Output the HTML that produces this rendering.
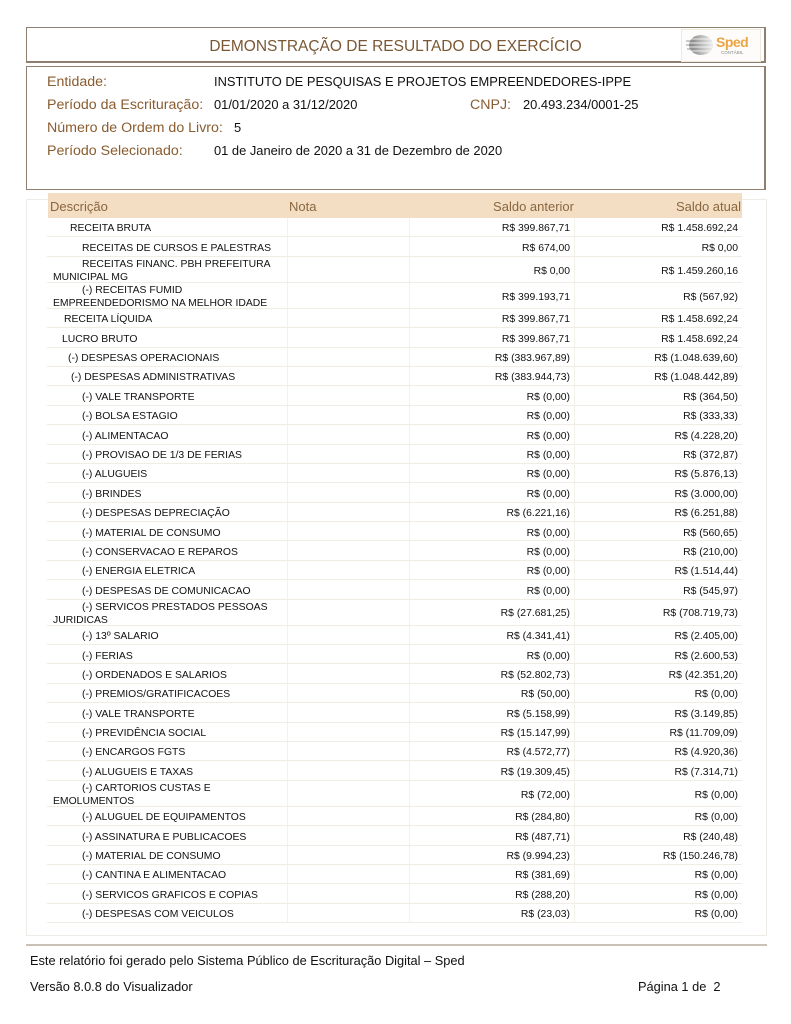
<!DOCTYPE html>
<html><head><meta charset="utf-8">
<style>
*{margin:0;padding:0;box-sizing:border-box}
html,body{width:791px;height:1024px;background:#fff;overflow:hidden}
body{position:relative;font-family:"Liberation Sans",Arial,sans-serif;color:#111}
.abs{position:absolute;white-space:nowrap}
.tbox{position:absolute;left:26px;top:27px;width:740px;height:36px;border:1px solid #8e7f70;border-right-width:2px;border-bottom-width:2px}
.title{position:absolute;left:0;width:791px;top:38px;text-align:center;font-size:15.5px;color:#7a5734;line-height:18px}
.ibox{position:absolute;left:26px;top:66px;width:740px;height:124px;border:1px solid #8e7f70;border-right-width:2px}
.lbl{color:#8a5c30;font-size:14.2px;line-height:16px}
.val{font-size:12.9px;line-height:16px;color:#111}
.obox{position:absolute;left:26px;top:199px;width:741px;height:737px;border:1px solid #efebe6}
.hdr{position:absolute;left:48px;top:193px;width:694px;height:25px;background:#f3dec3;font-size:13px;color:#8a6640}
.hdr span{position:absolute;top:6px;line-height:15px}
.rows{position:absolute;left:47px;top:218px;width:695px}
.r{display:flex;border-bottom:1px solid #f1ece5;font-size:10.4px;line-height:12.4px}
.r>div{display:flex;align-items:center;height:100%;border-right:1px solid #f4f0ea;padding-top:5px}
.d{width:241px;padding-left:6px;white-space:nowrap}
.n{width:122px}
.a{width:165px;justify-content:flex-end;padding-right:4px}
.b{width:167px;justify-content:flex-end;padding-right:4px;border-right:none!important}
.s{height:19.4px}
.w{height:26px}
.foot{position:absolute;left:26px;top:944px;width:741px;height:2px;background:#c9c0b6}
.ft{font-size:12.8px;line-height:15px;color:#111}
</style></head><body>

<div class="tbox"></div>
<div class="title">DEMONSTRAÇÃO DE RESULTADO DO EXERCÍCIO</div>

<!-- logo -->
<div class="abs" style="left:681px;top:29px;width:80px;height:33px;border:1px solid #efe8dc;background:#fdfcfa"></div>
<svg class="abs" style="left:686px;top:34px" width="28" height="22" viewBox="0 0 28 22">
<defs><linearGradient id="g" x1="0" y1="0" x2="1" y2="0"><stop offset="0" stop-color="#7c7c7c"/><stop offset="0.6" stop-color="#c4c4c4"/><stop offset="1" stop-color="#ececec"/></linearGradient></defs>
<ellipse cx="15" cy="11" rx="12" ry="10" fill="url(#g)"/>
<g stroke="#fff" stroke-width="1" opacity="0.8"><line x1="3" y1="5" x2="26" y2="5"/><line x1="2" y1="9" x2="27" y2="9"/><line x1="3" y1="13" x2="26" y2="13"/><line x1="5" y1="17" x2="24" y2="17"/></g>
<g stroke="#999" stroke-width="1"><line x1="0" y1="7" x2="6" y2="7"/><line x1="0" y1="11" x2="5" y2="11"/><line x1="1" y1="15" x2="7" y2="15"/></g>
</svg>
<div class="abs" style="left:716px;top:35px;font-size:14px;font-weight:bold;color:#eaa443;line-height:15px;letter-spacing:-0.5px">Sped</div>
<div class="abs" style="left:721px;top:50px;font-size:4.5px;color:#888;line-height:5px">CONTÁBIL</div>

<div class="ibox"></div>
<div class="abs lbl" style="left:47px;top:74px">Entidade:</div>
<div class="abs val" style="left:214px;top:74px">INSTITUTO DE PESQUISAS E PROJETOS EMPREENDEDORES-IPPE</div>
<div class="abs lbl" style="left:47px;top:97px">Período da Escrituração:</div>
<div class="abs val" style="left:214px;top:97px">01/01/2020 a 31/12/2020</div>
<div class="abs lbl" style="left:470px;top:97px">CNPJ:</div>
<div class="abs val" style="left:523px;top:97px">20.493.234/0001-25</div>
<div class="abs lbl" style="left:47px;top:120px">Número de Ordem do Livro:</div>
<div class="abs val" style="left:234px;top:120px">5</div>
<div class="abs lbl" style="left:47px;top:143px">Período Selecionado:</div>
<div class="abs val" style="left:214px;top:143px">01 de Janeiro de 2020 a 31 de Dezembro de 2020</div>

<div class="obox"></div>
<div class="hdr">
<span style="left:2px">Descrição</span>
<span style="left:241px">Nota</span>
<span style="right:168px">Saldo anterior</span>
<span style="right:1px">Saldo atual</span>
</div>

<div class="rows">
<div class="r s"><div class="d" style="text-indent:17px">RECEITA BRUTA</div><div class="n"></div><div class="a">R$ 399.867,71</div><div class="b">R$ 1.458.692,24</div></div>
<div class="r s"><div class="d" style="text-indent:29px">RECEITAS DE CURSOS E PALESTRAS</div><div class="n"></div><div class="a">R$ 674,00</div><div class="b">R$ 0,00</div></div>
<div class="r w"><div class="d"><div><span style="padding-left:29px">RECEITAS FINANC. PBH PREFEITURA</span><br>MUNICIPAL MG</div></div><div class="n"></div><div class="a">R$ 0,00</div><div class="b">R$ 1.459.260,16</div></div>
<div class="r w"><div class="d"><div><span style="padding-left:29px">(-) RECEITAS FUMID</span><br>EMPREENDEDORISMO NA MELHOR IDADE</div></div><div class="n"></div><div class="a">R$ 399.193,71</div><div class="b">R$ (567,92)</div></div>
<div class="r s"><div class="d" style="text-indent:11px">RECEITA LÍQUIDA</div><div class="n"></div><div class="a">R$ 399.867,71</div><div class="b">R$ 1.458.692,24</div></div>
<div class="r s"><div class="d" style="text-indent:9px">LUCRO BRUTO</div><div class="n"></div><div class="a">R$ 399.867,71</div><div class="b">R$ 1.458.692,24</div></div>
<div class="r s"><div class="d" style="text-indent:15px">(-) DESPESAS OPERACIONAIS</div><div class="n"></div><div class="a">R$ (383.967,89)</div><div class="b">R$ (1.048.639,60)</div></div>
<div class="r s"><div class="d" style="text-indent:18px">(-) DESPESAS ADMINISTRATIVAS</div><div class="n"></div><div class="a">R$ (383.944,73)</div><div class="b">R$ (1.048.442,89)</div></div>
<div class="r s"><div class="d" style="text-indent:29px">(-) VALE TRANSPORTE</div><div class="n"></div><div class="a">R$ (0,00)</div><div class="b">R$ (364,50)</div></div>
<div class="r s"><div class="d" style="text-indent:29px">(-) BOLSA ESTAGIO</div><div class="n"></div><div class="a">R$ (0,00)</div><div class="b">R$ (333,33)</div></div>
<div class="r s"><div class="d" style="text-indent:29px">(-) ALIMENTACAO</div><div class="n"></div><div class="a">R$ (0,00)</div><div class="b">R$ (4.228,20)</div></div>
<div class="r s"><div class="d" style="text-indent:29px">(-) PROVISAO DE 1/3 DE FERIAS</div><div class="n"></div><div class="a">R$ (0,00)</div><div class="b">R$ (372,87)</div></div>
<div class="r s"><div class="d" style="text-indent:29px">(-) ALUGUEIS</div><div class="n"></div><div class="a">R$ (0,00)</div><div class="b">R$ (5.876,13)</div></div>
<div class="r s"><div class="d" style="text-indent:29px">(-) BRINDES</div><div class="n"></div><div class="a">R$ (0,00)</div><div class="b">R$ (3.000,00)</div></div>
<div class="r s"><div class="d" style="text-indent:29px">(-) DESPESAS DEPRECIAÇÃO</div><div class="n"></div><div class="a">R$ (6.221,16)</div><div class="b">R$ (6.251,88)</div></div>
<div class="r s"><div class="d" style="text-indent:29px">(-) MATERIAL DE CONSUMO</div><div class="n"></div><div class="a">R$ (0,00)</div><div class="b">R$ (560,65)</div></div>
<div class="r s"><div class="d" style="text-indent:29px">(-) CONSERVACAO E REPAROS</div><div class="n"></div><div class="a">R$ (0,00)</div><div class="b">R$ (210,00)</div></div>
<div class="r s"><div class="d" style="text-indent:29px">(-) ENERGIA ELETRICA</div><div class="n"></div><div class="a">R$ (0,00)</div><div class="b">R$ (1.514,44)</div></div>
<div class="r s"><div class="d" style="text-indent:29px">(-) DESPESAS DE COMUNICACAO</div><div class="n"></div><div class="a">R$ (0,00)</div><div class="b">R$ (545,97)</div></div>
<div class="r w"><div class="d"><div><span style="padding-left:29px">(-) SERVICOS PRESTADOS PESSOAS</span><br>JURIDICAS</div></div><div class="n"></div><div class="a">R$ (27.681,25)</div><div class="b">R$ (708.719,73)</div></div>
<div class="r s"><div class="d" style="text-indent:29px">(-) 13º SALARIO</div><div class="n"></div><div class="a">R$ (4.341,41)</div><div class="b">R$ (2.405,00)</div></div>
<div class="r s"><div class="d" style="text-indent:29px">(-) FERIAS</div><div class="n"></div><div class="a">R$ (0,00)</div><div class="b">R$ (2.600,53)</div></div>
<div class="r s"><div class="d" style="text-indent:29px">(-) ORDENADOS E SALARIOS</div><div class="n"></div><div class="a">R$ (52.802,73)</div><div class="b">R$ (42.351,20)</div></div>
<div class="r s"><div class="d" style="text-indent:29px">(-) PREMIOS/GRATIFICACOES</div><div class="n"></div><div class="a">R$ (50,00)</div><div class="b">R$ (0,00)</div></div>
<div class="r s"><div class="d" style="text-indent:29px">(-) VALE TRANSPORTE</div><div class="n"></div><div class="a">R$ (5.158,99)</div><div class="b">R$ (3.149,85)</div></div>
<div class="r s"><div class="d" style="text-indent:29px">(-) PREVIDÊNCIA SOCIAL</div><div class="n"></div><div class="a">R$ (15.147,99)</div><div class="b">R$ (11.709,09)</div></div>
<div class="r s"><div class="d" style="text-indent:29px">(-) ENCARGOS FGTS</div><div class="n"></div><div class="a">R$ (4.572,77)</div><div class="b">R$ (4.920,36)</div></div>
<div class="r s"><div class="d" style="text-indent:29px">(-) ALUGUEIS E TAXAS</div><div class="n"></div><div class="a">R$ (19.309,45)</div><div class="b">R$ (7.314,71)</div></div>
<div class="r w"><div class="d"><div><span style="padding-left:29px">(-) CARTORIOS CUSTAS E</span><br>EMOLUMENTOS</div></div><div class="n"></div><div class="a">R$ (72,00)</div><div class="b">R$ (0,00)</div></div>
<div class="r s"><div class="d" style="text-indent:29px">(-) ALUGUEL DE EQUIPAMENTOS</div><div class="n"></div><div class="a">R$ (284,80)</div><div class="b">R$ (0,00)</div></div>
<div class="r s"><div class="d" style="text-indent:29px">(-) ASSINATURA E PUBLICACOES</div><div class="n"></div><div class="a">R$ (487,71)</div><div class="b">R$ (240,48)</div></div>
<div class="r s"><div class="d" style="text-indent:29px">(-) MATERIAL DE CONSUMO</div><div class="n"></div><div class="a">R$ (9.994,23)</div><div class="b">R$ (150.246,78)</div></div>
<div class="r s"><div class="d" style="text-indent:29px">(-) CANTINA E ALIMENTACAO</div><div class="n"></div><div class="a">R$ (381,69)</div><div class="b">R$ (0,00)</div></div>
<div class="r s"><div class="d" style="text-indent:29px">(-) SERVICOS GRAFICOS E COPIAS</div><div class="n"></div><div class="a">R$ (288,20)</div><div class="b">R$ (0,00)</div></div>
<div class="r s"><div class="d" style="text-indent:29px">(-) DESPESAS COM VEICULOS</div><div class="n"></div><div class="a">R$ (23,03)</div><div class="b">R$ (0,00)</div></div>
</div>

<div class="foot"></div>
<div class="abs ft" style="left:30px;top:953px">Este relatório foi gerado pelo Sistema Público de Escrituração Digital – Sped</div>
<div class="abs ft" style="left:30px;top:979px">Versão 8.0.8 do Visualizador</div>
<div class="abs ft" style="left:638px;top:979px">Página 1 de&nbsp; 2</div>

</body></html>
